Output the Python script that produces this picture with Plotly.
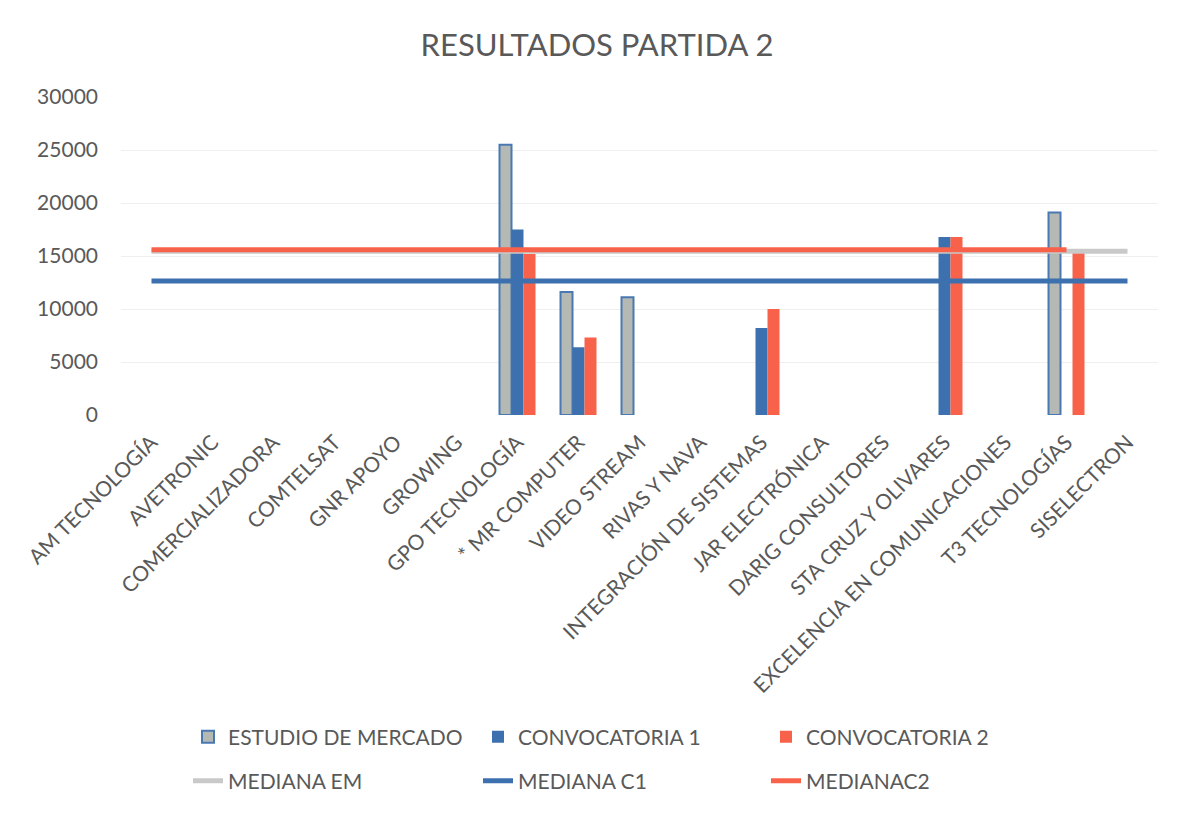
import plotly.graph_objects as go

categories = ["AM TECNOLOGÍA", "AVETRONIC", "COMERCIALIZADORA", "COMTELSAT", "GNR APOYO",
              "GROWING", "GPO TECNOLOGÍA", "* MR COMPUTER", "VIDEO STREAM", "RIVAS Y NAVA",
              "INTEGRACIÓN DE SISTEMAS", "JAR ELECTRÓNICA", "DARIG CONSULTORES",
              "STA CRUZ Y OLIVARES", "EXCELENCIA EN COMUNICACIONES", "T3 TECNOLOGÍAS", "SISELECTRON"]
estudio_mercado = [None, None, None, None, None, None, 25500, 11600, 11100, None,
                   None, None, None, None, None, 19100, None]
convocatoria_1 = [None, None, None, None, None, None, 17500, 6400, None, None,
                  8200, None, None, 16800, None, None, None]
convocatoria_2 = [None, None, None, None, None, None, 15200, 7300, None, None,
                  10000, None, None, 16800, None, 15600, None]
mediana_em = [15450] * 17
mediana_c1 = [12650] * 17
mediana_c2 = [15600] * 16 + [None]

GREY = "#B4B9B3"
BLUE = "#3D70AE"
RED = "#F8624A"
TXT = "#595959"
FONT = "Lato, Roboto, sans-serif"
FS = 21
W, H = 1180, 815

fig = go.Figure()
fig.add_bar(x=categories, y=estudio_mercado, name="ESTUDIO DE MERCADO",
            marker=dict(color=GREY, line=dict(color="#4A78B2", width=2)), legend="legend")
fig.add_bar(x=categories, y=convocatoria_1, name="CONVOCATORIA 1",
            marker=dict(color=BLUE, line=dict(width=0)), legend="legend2")
fig.add_bar(x=categories, y=convocatoria_2, name="CONVOCATORIA 2",
            marker=dict(color=RED, line=dict(width=0)), legend="legend3")
fig.add_scatter(x=categories, y=mediana_em, name="MEDIANA EM", mode="lines",
                line=dict(color="#C9C9C9", width=5), legend="legend4")
fig.add_scatter(x=categories, y=mediana_c1, name="MEDIANA C1", mode="lines",
                line=dict(color=BLUE, width=5), legend="legend5")
fig.add_scatter(x=categories, y=mediana_c2, name="MEDIANAC2", mode="lines",
                line=dict(color=RED, width=5), legend="legend6")

PL, PR, PT, PB = 121, 1158, 97, 415


def leg(text_x, y):
    return dict(orientation="h", xref="container", yref="container",
                x=(text_x - 40) / W, xanchor="left", y=1 - y / H, yanchor="middle",
                font=dict(family=FONT, size=FS, color=TXT), bgcolor="rgba(0,0,0,0)")


fig.update_layout(
    width=W, height=H,
    paper_bgcolor="white", plot_bgcolor="white",
    margin=dict(l=PL, r=W - PR, t=PT, b=H - PB, autoexpand=False),
    barmode="group", bargap=0.41, bargroupgap=0.0,
    font=dict(family=FONT, size=FS, color=TXT),
    title=dict(text="RESULTADOS PARTIDA 2", xref="container", yref="container",
               x=597 / W, xanchor="center", y=1 - 45 / H, yanchor="middle",
               font=dict(family=FONT, size=31, color=TXT)),
    showlegend=True,
    legend=leg(228, 737),
    legend2=leg(518, 737),
    legend3=leg(806, 737),
    legend4=leg(228, 781),
    legend5=leg(518, 781),
    legend6=leg(806, 781),
)
fig.update_xaxes(tickangle=-45, showgrid=False, showline=False, ticks="", ticklabelstandoff=10,
                 tickfont=dict(family=FONT, size=FS, color=TXT))
fig.update_yaxes(range=[0, 30000], dtick=5000, tickformat="d", showgrid=True, gridcolor="#EFEFEF",
                 gridwidth=1, zeroline=False, showline=False, ticks="", ticklabelstandoff=22,
                 tickfont=dict(family=FONT, size=FS, color=TXT))

fig.write_html("out.html", config={"displayModeBar": False},
               post_script="document.body.style.margin='0px';document.body.style.overflow='hidden';")
